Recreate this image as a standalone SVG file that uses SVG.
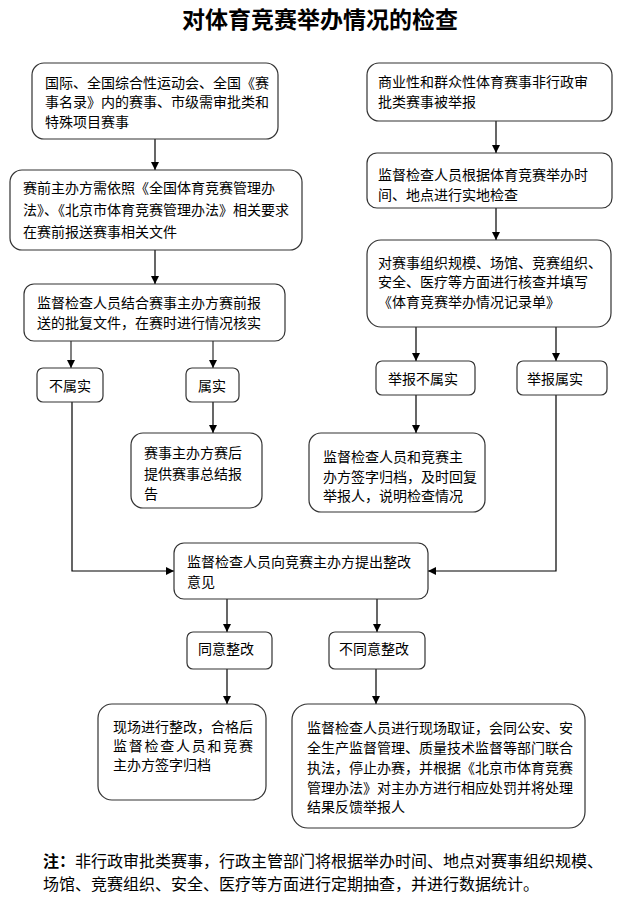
<svg xmlns="http://www.w3.org/2000/svg" width="637" height="904" viewBox="0 0 637 904">
<style>
.box{fill:#fff;stroke:#333;stroke-width:1.2}
.t{font-family:"Noto Sans CJK SC","Noto Sans",sans-serif;font-size:14px;fill:#000}
.c{text-anchor:middle}
.ln{fill:none;stroke:#000;stroke-width:1.2}
.gl{fill:none;stroke:#808080;stroke-width:2}
.title{font-family:"Noto Sans CJK SC",sans-serif;font-size:23px;font-weight:bold;fill:#000;text-anchor:middle}
.note{font-family:"Noto Sans CJK SC","Noto Sans",sans-serif;font-size:16px;fill:#000}
</style>
<defs>
<marker id="ah" markerUnits="userSpaceOnUse" markerWidth="8" markerHeight="8" refX="8" refY="4" orient="auto">
<path d="M0,0 L8,4 L0,8 z" fill="#000"/>
</marker>
</defs>
<rect width="637" height="904" fill="#fff"/>
<text class="title" x="320" y="28">对体育竞赛举办情况的检查</text>

<g id="connectors">
<line class="ln" x1="155" y1="139" x2="155" y2="170" marker-end="url(#ah)"/>
<line class="ln" x1="155" y1="250" x2="155" y2="284" marker-end="url(#ah)"/>
<line class="gl" x1="71" y1="341" x2="71" y2="368" marker-end="url(#ah)"/>
<line class="gl" x1="213" y1="341" x2="213" y2="368" marker-end="url(#ah)"/>
<line class="ln" x1="213" y1="402" x2="213" y2="433" marker-end="url(#ah)"/>
<polyline class="ln" points="72,402 72,571 174,571" marker-end="url(#ah)"/>
<line class="ln" x1="496" y1="121" x2="496" y2="153" marker-end="url(#ah)"/>
<line class="ln" x1="496" y1="208" x2="496" y2="240" marker-end="url(#ah)"/>
<line class="ln" x1="416" y1="327" x2="416" y2="361" marker-end="url(#ah)"/>
<line class="ln" x1="556" y1="327" x2="556" y2="361" marker-end="url(#ah)"/>
<line class="ln" x1="416" y1="395" x2="416" y2="433" marker-end="url(#ah)"/>
<polyline class="ln" points="556,395 556,571 428,571" marker-end="url(#ah)"/>
<line class="ln" x1="227" y1="599" x2="227" y2="632" marker-end="url(#ah)"/>
<line class="ln" x1="377" y1="599" x2="377" y2="632" marker-end="url(#ah)"/>
<line class="ln" x1="227" y1="669" x2="227" y2="704" marker-end="url(#ah)"/>
<line class="ln" x1="376" y1="669" x2="376" y2="704" marker-end="url(#ah)"/>
</g>

<g id="n1">
<rect class="box" x="32" y="63" width="246" height="76" rx="12"/>
<text class="t" x="45" y="88">国际、全国综合性运动会、全国《赛</text>
<text class="t" x="45" y="107">事名录》内的赛事、市级需审批类和</text>
<text class="t" x="45" y="127">特殊项目赛事</text>
</g>
<g id="n2">
<rect class="box" x="10" y="170" width="292" height="80" rx="12"/>
<text class="t" x="23" y="193">赛前主办方需依照《全国体育竞赛管理办</text>
<text class="t" x="23" y="215">法》、《北京市体育竞赛管理办法》相关要求</text>
<text class="t" x="23" y="237">在赛前报送赛事相关文件</text>
</g>
<g id="n3">
<rect class="box" x="24" y="284" width="261" height="57" rx="10"/>
<text class="t" x="37" y="308">监督检查人员结合赛事主办方赛前报</text>
<text class="t" x="37" y="328">送的批复文件，在赛时进行情况核实</text>
</g>
<g id="n4">
<rect class="box" x="37" y="368" width="66" height="34" rx="6"/>
<text class="t c" x="70" y="391">不属实</text>
</g>
<g id="n5">
<rect class="box" x="186" y="368" width="53" height="34" rx="6"/>
<text class="t c" x="212" y="391">属实</text>
</g>
<g id="n6">
<rect class="box" x="131" y="433" width="131" height="75" rx="12"/>
<text class="t" x="144" y="458">赛事主办方赛后</text>
<text class="t" x="144" y="479">提供赛事总结报</text>
<text class="t" x="144" y="499">告</text>
</g>
<g id="r1">
<rect class="box" x="367" y="63" width="245" height="58" rx="12"/>
<text class="t" x="378" y="87">商业性和群众性体育赛事非行政审</text>
<text class="t" x="378" y="107">批类赛事被举报</text>
</g>
<g id="r2">
<rect class="box" x="367" y="153" width="245" height="55" rx="10"/>
<text class="t" x="378" y="180">监督检查人员根据体育竞赛举办时</text>
<text class="t" x="378" y="200">间、地点进行实地检查</text>
</g>
<g id="r3">
<rect class="box" x="367" y="240" width="244" height="87" rx="14"/>
<text class="t" x="378" y="268">对赛事组织规模、场馆、竞赛组织、</text>
<text class="t" x="378" y="287">安全、医疗等方面进行核查并填写</text>
<text class="t" x="378" y="307">《体育竞赛举办情况记录单》</text>
</g>
<g id="r4">
<rect class="box" x="376" y="361" width="99" height="34" rx="6"/>
<text class="t c" x="423" y="384">举报不属实</text>
</g>
<g id="r5">
<rect class="box" x="517" y="361" width="90" height="34" rx="6"/>
<text class="t c" x="555" y="384">举报属实</text>
</g>
<g id="r6">
<rect class="box" x="309" y="433" width="176" height="79" rx="12"/>
<text class="t" x="323" y="462">监督检查人员和竞赛主</text>
<text class="t" x="323" y="482">办方签字归档，及时回复</text>
<text class="t" x="323" y="501">举报人，说明检查情况</text>
</g>
<g id="m1">
<rect class="box" x="174" y="543" width="254" height="56" rx="10"/>
<text class="t" x="187" y="567">监督检查人员向竞赛主办方提出整改</text>
<text class="t" x="187" y="587">意见</text>
</g>
<g id="m2">
<rect class="box" x="187" y="632" width="85" height="37" rx="6"/>
<text class="t" x="198" y="654">同意整改</text>
</g>
<g id="m3">
<rect class="box" x="329" y="632" width="96" height="37" rx="6"/>
<text class="t" x="339" y="654">不同意整改</text>
</g>
<g id="m4">
<rect class="box" x="98" y="704" width="168" height="96" rx="14"/>
<text class="t" x="113" y="732" textLength="140" lengthAdjust="spacing">现场进行整改，合格后</text>
<text class="t" x="113" y="751" textLength="140" lengthAdjust="spacing">监督检查人员和竞赛</text>
<text class="t" x="113" y="770">主办方签字归档</text>
</g>
<g id="m5">
<rect class="box" x="292" y="704" width="293" height="124" rx="16"/>
<text class="t" x="307" y="733">监督检查人员进行现场取证，会同公安、安</text>
<text class="t" x="307" y="753">全生产监督管理、质量技术监督等部门联合</text>
<text class="t" x="307" y="773">执法，停止办赛，并根据《北京市体育竞赛</text>
<text class="t" x="307" y="793">管理办法》对主办方进行相应处罚并将处理</text>
<text class="t" x="307" y="812">结果反馈举报人</text>
</g>

<text class="note" x="43" y="867" font-weight="bold">注：</text>
<text class="note" x="75" y="867">非行政审批类赛事，行政主管部门将根据举办时间、地点对赛事组织规模、</text>
<text class="note" x="43" y="890">场馆、竞赛组织、安全、医疗等方面进行定期抽查，并进行数据统计。</text>
</svg>
